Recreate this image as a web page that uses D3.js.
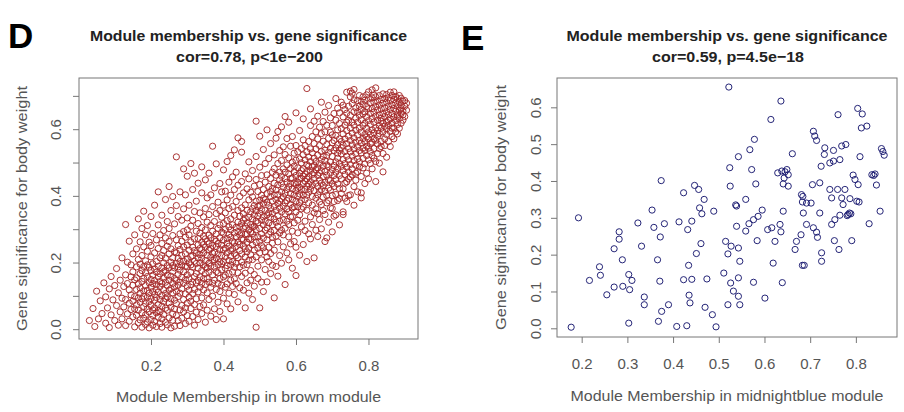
<!DOCTYPE html>
<html><head><meta charset="utf-8">
<script src="https://cdn.jsdelivr.net/npm/d3@7"></script>
<style>
html,body{margin:0;padding:0;background:#fff;}
svg{display:block;font-family:"Liberation Sans",Arial,Helvetica,sans-serif;}
</style>
</head><body>
<script>
// ---------- data ----------
const panelLetters = ["D", "E"];
const titleLines = [
  ["Module membership vs. gene significance", "cor=0.78, p<1e\u2212200"],
  ["Module membership vs. gene significance", "cor=0.59, p=4.5e\u221218"]
];
const xTitles = ["Module Membership in brown module", "Module Membership in midnightblue module"];
const yTitles = ["Gene significance for body weight", "Gene significance for body weight"];

const brownXTicks = [0.2, 0.4, 0.6, 0.8];
const brownYTicks = [0.0, 0.1, 0.2, 0.3, 0.4, 0.5, 0.6, 0.7];
const brownYLabelled = [0.0, 0.2, 0.4, 0.6];
const blueXTicks = [0.2, 0.3, 0.4, 0.5, 0.6, 0.7, 0.8];
const blueYTicks = [0.0, 0.1, 0.2, 0.3, 0.4, 0.5, 0.6];

// brown module: [module membership, [gene significance values at that membership]]
const brownColumns = [
[0.030,[0.026]],[0.040,[0.062]],[0.045,[0.008]],[0.050,[0.114]],[0.055,[0.031]],[0.060,[0.085]],
[0.065,[0.047]],[0.070,[0.139]],[0.075,[0.018,0.097]],[0.080,[0.064]],[0.085,[0.121,0.005]],
[0.090,[0.043,0.158]],[0.095,[0.088]],[0.100,[0.026,0.131]],[0.105,[0.071,0.182]],[0.110,[0.109,0.012]],
[0.115,[0.052,0.147]],[0.120,[0.093,0.214,0.031]],[0.125,[0.128,0.067]],[0.130,[0.314,0.011,0.163,0.089]],
[0.135,[0.046,0.137,0.201]],[0.140,[0.264,0.078,0.118,0.024]],[0.145,[0.157,0.059,0.193,0.103]],
[0.150,[0.037,0.132,0.226,0.084,0.172]],[0.155,[0.007,0.098,0.148,0.061,0.283]],
[0.160,[0.119,0.042,0.187,0.073,0.241,0.154]],[0.165,[0.019,0.136,0.094,0.209,0.057,0.331]],
[0.170,[0.081,0.167,0.028,0.124,0.262,0.108,0.195]],[0.175,[0.049,0.143,0.006,0.221,0.091,0.176,0.302]],
[0.180,[0.115,0.033,0.188,0.068,0.152,0.247,0.099,0.354]],[0.185,[0.014,0.131,0.077,0.205,0.043,0.169,0.283]],
[0.190,[0.096,0.158,0.022,0.234,0.117,0.061,0.193,0.311]],[0.195,[0.139,0.052,0.186,0.004,0.108,0.261,0.083]],
[0.200,[0.071,0.149,0.029,0.217,0.126,0.176,0.092,0.338,0.251]],[0.205,[0.012,0.113,0.196,0.058,0.162,0.287,0.137,0.041]],
[0.210,[0.087,0.229,0.146,0.023,0.181,0.104,0.064,0.372]],[0.215,[0.134,0.049,0.203,0.171,0.095,0.268,0.008,0.119]],
[0.220,[0.074,0.157,0.036,0.242,0.111,0.189,0.313,0.056,0.412]],[0.225,[0.128,0.017,0.214,0.089,0.166,0.283,0.143,0.052]],
[0.230,[0.101,0.184,0.031,0.257,0.069,0.137,0.221,0.342,0.006]],[0.235,[0.153,0.083,0.199,0.044,0.118,0.296,0.172,0.236]],
[0.240,[0.021,0.107,0.176,0.063,0.274,0.141,0.213,0.389,0.092]],[0.245,[0.131,0.057,0.191,0.249,0.013,0.162,0.097,0.323]],
[0.250,[0.079,0.147,0.226,0.034,0.184,0.117,0.302,0.428,0.263]],[0.255,[0.004,0.122,0.201,0.066,0.159,0.241,0.091,0.356]],
[0.260,[0.046,0.173,0.109,0.281,0.138,0.214,0.027,0.398,0.191]],[0.265,[0.087,0.152,0.232,0.061,0.127,0.316,0.184,0.009]],
[0.270,[0.113,0.197,0.041,0.268,0.146,0.077,0.517,0.229,0.371]],[0.275,[0.164,0.026,0.213,0.098,0.251,0.132,0.338,0.187]],
[0.280,[0.058,0.141,0.286,0.011,0.177,0.108,0.239,0.412,0.203]],[0.285,[0.121,0.193,0.071,0.264,0.156,0.033,0.327,0.221]],
[0.290,[0.089,0.172,0.247,0.138,0.204,0.052,0.361,0.481,0.293]],[0.295,[0.017,0.149,0.226,0.106,0.189,0.276,0.064,0.403]],
[0.300,[0.129,0.211,0.078,0.163,0.252,0.041,0.334,0.188,0.459,0.298]],[0.305,[0.096,0.237,0.151,0.024,0.199,0.283,0.117,0.372]],
[0.310,[0.171,0.062,0.218,0.134,0.262,0.309,0.084,0.497,0.193]],[0.315,[0.142,0.246,0.038,0.186,0.107,0.327,0.221,0.419]],
[0.320,[0.012,0.119,0.204,0.271,0.158,0.074,0.353,0.236,0.468]],[0.325,[0.167,0.228,0.091,0.294,0.139,0.051,0.384,0.197]],
[0.330,[0.112,0.253,0.183,0.029,0.317,0.214,0.146,0.438,0.272]],[0.335,[0.199,0.068,0.242,0.157,0.288,0.126,0.349,0.224]],
[0.340,[0.094,0.176,0.261,0.047,0.213,0.305,0.138,0.409,0.487,0.239]],[0.345,[0.152,0.229,0.118,0.279,0.193,0.073,0.337,0.254]],
[0.350,[0.021,0.206,0.167,0.246,0.134,0.298,0.362,0.187,0.448,0.271]],[0.355,[0.109,0.184,0.263,0.222,0.057,0.321,0.152,0.394]],
[0.360,[0.141,0.237,0.198,0.282,0.089,0.344,0.171,0.468,0.256]],[0.365,[0.216,0.126,0.274,0.039,0.189,0.311,0.242,0.403]],
[0.370,[0.163,0.251,0.099,0.294,0.207,0.368,0.549,0.138,0.228]],[0.375,[0.061,0.186,0.269,0.231,0.147,0.323,0.424,0.208]],
[0.380,[0.119,0.213,0.286,0.173,0.029,0.347,0.248,0.496,0.264]],[0.385,[0.194,0.257,0.138,0.302,0.081,0.226,0.381,0.169]],
[0.390,[0.152,0.239,0.313,0.202,0.113,0.274,0.437,0.053,0.356]],[0.395,[0.221,0.178,0.291,0.132,0.252,0.336,0.196,0.412]],
[0.400,[0.093,0.267,0.203,0.317,0.157,0.031,0.372,0.238,0.478,0.288]],[0.405,[0.183,0.243,0.126,0.299,0.217,0.349,0.162,0.414]],
[0.410,[0.136,0.272,0.229,0.326,0.076,0.191,0.388,0.258,0.503]],[0.415,[0.206,0.307,0.167,0.249,0.108,0.362,0.284,0.441]],
[0.420,[0.061,0.236,0.193,0.331,0.276,0.147,0.402,0.219,0.521,0.298]],[0.425,[0.172,0.264,0.313,0.128,0.241,0.368,0.203,0.457]],
[0.430,[0.104,0.289,0.227,0.342,0.186,0.259,0.419,0.151,0.538]],[0.435,[0.248,0.198,0.306,0.137,0.277,0.383,0.221,0.471]],
[0.440,[0.082,0.214,0.321,0.262,0.169,0.356,0.293,0.574,0.432]],[0.445,[0.236,0.283,0.187,0.339,0.124,0.254,0.398,0.308]],
[0.450,[0.158,0.271,0.226,0.364,0.317,0.201,0.443,0.289,0.531,0.563]],[0.455,[0.117,0.249,0.302,0.192,0.346,0.268,0.409,0.327]],
[0.460,[0.064,0.217,0.284,0.373,0.241,0.333,0.168,0.466,0.308]],[0.465,[0.194,0.261,0.319,0.139,0.357,0.286,0.421,0.232]],
[0.470,[0.108,0.298,0.243,0.388,0.336,0.207,0.502,0.271,0.451]],[0.475,[0.176,0.314,0.269,0.352,0.223,0.411,0.292,0.147]],
[0.480,[0.089,0.253,0.331,0.287,0.397,0.209,0.362,0.476,0.306]],[0.485,[0.164,0.276,0.343,0.238,0.309,0.429,0.371,0.129]],
[0.490,[0.006,0.217,0.298,0.356,0.261,0.384,0.324,0.518,0.624,0.449]],[0.495,[0.189,0.319,0.277,0.368,0.243,0.413,0.339,0.152]],
[0.500,[0.064,0.229,0.302,0.387,0.348,0.264,0.434,0.579,0.371,0.486]],[0.505,[0.141,0.286,0.327,0.251,0.402,0.359,0.461,0.208]],
[0.510,[0.113,0.244,0.313,0.378,0.337,0.419,0.273,0.539,0.392]],[0.515,[0.179,0.297,0.356,0.232,0.441,0.324,0.389,0.497]],
[0.520,[0.142,0.268,0.343,0.407,0.381,0.304,0.463,0.598,0.217]],[0.525,[0.203,0.319,0.371,0.284,0.428,0.349,0.512,0.246]],
[0.530,[0.167,0.292,0.362,0.398,0.336,0.452,0.413,0.557,0.227]],[0.535,[0.258,0.313,0.384,0.347,0.471,0.422,0.192,0.276]],
[0.540,[0.094,0.237,0.331,0.403,0.368,0.438,0.297,0.523,0.482]],[0.545,[0.188,0.356,0.279,0.418,0.389,0.462,0.321,0.573]],
[0.550,[0.159,0.262,0.341,0.377,0.433,0.404,0.497,0.308,0.593]],[0.555,[0.221,0.384,0.324,0.448,0.363,0.471,0.289,0.536]],
[0.560,[0.198,0.297,0.352,0.412,0.391,0.459,0.506,0.607,0.437]],[0.565,[0.247,0.369,0.328,0.426,0.481,0.398,0.547,0.283]],
[0.570,[0.134,0.303,0.346,0.408,0.452,0.379,0.524,0.638,0.471]],[0.575,[0.229,0.361,0.419,0.324,0.441,0.493,0.386,0.572]],
[0.580,[0.208,0.277,0.393,0.352,0.466,0.428,0.514,0.621,0.314]],[0.585,[0.256,0.374,0.437,0.407,0.482,0.337,0.549,0.452]],
[0.590,[0.183,0.338,0.389,0.453,0.421,0.501,0.364,0.578,0.294]],[0.595,[0.263,0.403,0.367,0.472,0.439,0.528,0.319,0.489]],
[0.600,[0.161,0.246,0.352,0.416,0.384,0.461,0.507,0.649,0.551,0.434]],[0.605,[0.289,0.398,0.441,0.367,0.484,0.532,0.423,0.327]],
[0.610,[0.222,0.343,0.426,0.406,0.468,0.511,0.379,0.596,0.452]],[0.615,[0.307,0.387,0.452,0.418,0.499,0.542,0.361,0.476]],
[0.620,[0.254,0.366,0.437,0.402,0.481,0.523,0.631,0.459,0.568]],[0.625,[0.324,0.419,0.466,0.389,0.508,0.444,0.551,0.296]],
[0.630,[0.203,0.357,0.429,0.473,0.451,0.532,0.722,0.494,0.402]],[0.635,[0.286,0.411,0.458,0.379,0.517,0.489,0.563,0.436]],
[0.640,[0.271,0.337,0.443,0.476,0.421,0.541,0.503,0.611,0.661]],[0.645,[0.372,0.432,0.464,0.398,0.529,0.487,0.578,0.314]],
[0.650,[0.214,0.349,0.452,0.491,0.416,0.557,0.513,0.624,0.469]],[0.655,[0.393,0.438,0.479,0.361,0.541,0.503,0.592,0.297]],
[0.660,[0.278,0.346,0.461,0.428,0.522,0.484,0.571,0.639,0.403]],[0.665,[0.382,0.447,0.497,0.413,0.551,0.469,0.606,0.329]],
[0.670,[0.301,0.374,0.476,0.438,0.533,0.509,0.587,0.681,0.419]],[0.675,[0.396,0.458,0.518,0.356,0.489,0.564,0.431,0.623]],
[0.680,[0.263,0.344,0.473,0.441,0.537,0.506,0.592,0.651,0.414]],[0.685,[0.401,0.462,0.521,0.379,0.554,0.493,0.612,0.274]],
[0.690,[0.321,0.386,0.488,0.448,0.573,0.531,0.671,0.423]],[0.695,[0.417,0.469,0.543,0.364,0.502,0.591,0.634,0.446]],
[0.700,[0.292,0.362,0.479,0.437,0.559,0.518,0.611,0.401,0.583]],[0.705,[0.428,0.491,0.536,0.383,0.566,0.461,0.647,0.339]],
[0.710,[0.343,0.404,0.502,0.471,0.581,0.544,0.692,0.627,0.449]],[0.715,[0.436,0.513,0.554,0.386,0.598,0.482,0.663,0.528]],
[0.720,[0.313,0.392,0.497,0.461,0.571,0.536,0.617,0.422,0.649]],[0.725,[0.451,0.526,0.563,0.407,0.602,0.488,0.681,0.544]],
[0.730,[0.352,0.421,0.509,0.476,0.586,0.552,0.637,0.672,0.344]],[0.735,[0.464,0.533,0.571,0.438,0.612,0.497,0.659,0.393]],
[0.740,[0.383,0.442,0.519,0.486,0.596,0.557,0.648,0.711,0.621]],[0.745,[0.472,0.542,0.579,0.451,0.627,0.508,0.669,0.401]],
[0.750,[0.403,0.457,0.532,0.494,0.603,0.566,0.641,0.697,0.714]],[0.755,[0.481,0.553,0.588,0.463,0.621,0.519,0.677,0.708]],
[0.760,[0.372,0.428,0.541,0.506,0.612,0.574,0.652,0.688,0.719]],[0.765,[0.492,0.561,0.597,0.468,0.633,0.527,0.664,0.447]],
[0.770,[0.412,0.511,0.548,0.583,0.621,0.652,0.686,0.473]],[0.775,[0.502,0.566,0.603,0.536,0.641,0.487,0.669,0.701]],
[0.780,[0.394,0.458,0.529,0.591,0.558,0.628,0.659,0.409,0.683]],[0.785,[0.512,0.572,0.611,0.543,0.646,0.484,0.674,0.697]],
[0.790,[0.437,0.496,0.536,0.584,0.618,0.563,0.652,0.687]],[0.795,[0.521,0.577,0.603,0.549,0.638,0.468,0.668,0.703]],
[0.800,[0.451,0.508,0.543,0.592,0.626,0.571,0.661,0.691,0.712]],[0.805,[0.533,0.584,0.614,0.556,0.647,0.497,0.679]],
[0.810,[0.481,0.521,0.561,0.598,0.632,0.662,0.694,0.718]],[0.815,[0.542,0.589,0.621,0.571,0.651,0.513,0.681,0.703]],
[0.820,[0.443,0.503,0.604,0.567,0.639,0.668,0.697,0.724]],[0.825,[0.556,0.596,0.627,0.579,0.658,0.527,0.684]],
[0.830,[0.498,0.542,0.611,0.643,0.587,0.672,0.701]],[0.835,[0.563,0.603,0.633,0.661,0.548,0.689,0.624]],
[0.840,[0.472,0.527,0.592,0.647,0.618,0.678,0.706]],[0.845,[0.571,0.609,0.638,0.664,0.551,0.692]],
[0.850,[0.516,0.584,0.622,0.652,0.681,0.704,0.601]],[0.855,[0.563,0.611,0.643,0.669,0.694,0.627]],
[0.860,[0.548,0.593,0.631,0.659,0.686,0.711]],[0.865,[0.578,0.618,0.647,0.673,0.701,0.603]],
[0.870,[0.571,0.604,0.637,0.662,0.689,0.712]],[0.875,[0.592,0.626,0.654,0.678,0.698]],
[0.880,[0.586,0.614,0.643,0.668,0.691,0.637]],[0.885,[0.603,0.632,0.657,0.681,0.701]],
[0.890,[0.618,0.647,0.672,0.693,0.662]],[0.895,[0.627,0.654,0.684,0.643]],
[0.900,[0.638,0.669,0.686]],[0.905,[0.657,0.678]]
];

// midnightblue module: [module membership, gene significance]
const bluePoints = [
[0.177,0.003],[0.193,0.300],[0.217,0.130],[0.239,0.167],[0.241,0.144],[0.255,0.091],[0.271,0.216],[0.271,0.112],
[0.282,0.262],[0.282,0.242],[0.289,0.186],[0.290,0.114],[0.303,0.146],[0.303,0.014],[0.305,0.105],[0.310,0.130],
[0.323,0.286],[0.331,0.223],[0.337,0.085],[0.337,0.064],[0.354,0.321],[0.358,0.274],[0.366,0.186],[0.368,0.019],
[0.371,0.128],[0.372,0.248],[0.374,0.401],[0.375,0.046],[0.381,0.284],[0.390,0.064],[0.408,0.005],[0.413,0.289],
[0.423,0.368],[0.423,0.132],[0.430,0.007],[0.432,0.268],[0.434,0.171],[0.435,0.090],[0.437,0.069],[0.441,0.133],
[0.441,0.291],[0.447,0.388],[0.451,0.203],[0.456,0.377],[0.458,0.327],[0.461,0.230],[0.463,0.311],[0.468,0.350],
[0.470,0.057],[0.474,0.134],[0.486,0.037],[0.489,0.318],[0.494,0.004],[0.511,0.150],[0.515,0.236],[0.520,0.202],
[0.520,0.064],[0.522,0.655],[0.524,0.436],[0.525,0.386],[0.526,0.123],[0.537,0.335],
[0.636,0.617],[0.614,0.567],[0.761,0.580],[0.804,0.597],[0.814,0.582],[0.812,0.544],[0.824,0.549],[0.707,0.535],
[0.710,0.522],[0.714,0.510],[0.578,0.513],[0.568,0.485],[0.543,0.466],[0.572,0.431],[0.661,0.474],[0.732,0.490],
[0.751,0.483],[0.731,0.472],[0.769,0.495],[0.778,0.499],[0.743,0.449],[0.724,0.440],[0.751,0.454],[0.765,0.458],
[0.809,0.466],[0.856,0.488],[0.862,0.470],[0.629,0.422],[0.638,0.427],[0.649,0.431],[0.652,0.417],[0.643,0.408],
[0.581,0.392],[0.641,0.392],[0.652,0.386],[0.705,0.390],[0.721,0.395],[0.794,0.416],[0.798,0.404],[0.805,0.390],
[0.835,0.417],[0.842,0.419],[0.845,0.389],[0.743,0.377],[0.760,0.377],[0.776,0.377],[0.747,0.354],[0.769,0.354],
[0.787,0.352],[0.802,0.345],[0.807,0.343],[0.539,0.332],[0.559,0.350],[0.681,0.363],[0.683,0.343],[0.692,0.340],
[0.702,0.340],[0.772,0.336],[0.595,0.321],[0.586,0.304],[0.576,0.295],[0.566,0.284],[0.559,0.264],[0.539,0.277],
[0.641,0.318],[0.685,0.313],[0.721,0.313],[0.783,0.309],[0.789,0.311],[0.765,0.307],[0.754,0.295],[0.747,0.282],
[0.853,0.318],[0.829,0.284],[0.607,0.268],[0.616,0.273],[0.634,0.282],[0.636,0.262],[0.692,0.282],[0.707,0.273],
[0.714,0.261],[0.716,0.247],[0.623,0.236],[0.584,0.238],[0.680,0.254],[0.670,0.236],[0.667,0.214],[0.753,0.238],
[0.763,0.214],[0.791,0.238],[0.725,0.205],[0.725,0.182],[0.683,0.171],[0.687,0.171],[0.619,0.177],[0.543,0.218],
[0.527,0.223],[0.546,0.182],[0.576,0.125],[0.543,0.137],[0.532,0.101],[0.543,0.087],[0.546,0.064],[0.639,0.124],
[0.601,0.082],[0.786,0.313],[0.781,0.306],[0.645,0.425],[0.684,0.358],[0.859,0.480],[0.839,0.415]
];

// ---------- drawing ----------
const W = 904, H = 412;
const svg = d3.select("body").append("svg").attr("width", W).attr("height", H);

const brownPoints = brownColumns.flatMap(([mm, gsList]) => gsList.map(gs => [mm, gs]));

const panels = [
  {
    box: {l: 79, r: 418, t: 78, b: 339},
    xDom: [0.0014, 0.9366], yDom: [-0.0294, 0.7536],
    xTicks: brownXTicks, yTicks: brownYTicks,
    yLab: d => brownYLabelled.some(v => Math.abs(v - d) < 1e-9) ? d3.format(".1f")(d) : "",
    pts: brownPoints, color: "#a52a2a",
    letterX: 8, letterY: 48,
    t1W: 317, t2W: 147, xtW: 265, ytW: 245,
    xLabBase: 370.5, yLabBase: 60.5, xTitleBase: 401.5, yTitleBase: 26.5
  },
  {
    box: {l: 557, r: 897, t: 78, b: 337},
    xDom: [0.146, 0.890], yDom: [-0.0236, 0.6796],
    xTicks: blueXTicks, yTicks: blueYTicks,
    yLab: d => d3.format(".1f")(d),
    pts: bluePoints, color: "#191970",
    letterX: 461, letterY: 50,
    t1W: 321, t2W: 152, xtW: 313, ytW: 245,
    xLabBase: 368.5, yLabBase: 540.7, xTitleBase: 400.5, yTitleBase: 506
  }
];

panels.forEach((p, i) => {
  const b = p.box;
  const x = d3.scaleLinear().domain(p.xDom).range([b.l, b.r]);
  const y = d3.scaleLinear().domain(p.yDom).range([b.b, b.t]);
  const cx = (b.l + b.r) / 2, cy = (b.t + b.b) / 2;
  const g = svg.append("g");

  // points
  g.append("g").selectAll("circle").data(p.pts).join("circle")
    .attr("cx", d => x(d[0])).attr("cy", d => y(d[1])).attr("r", 3.1)
    .attr("fill", "none").attr("stroke", p.color).attr("stroke-width", 0.95);

  // box
  g.append("rect").attr("x", b.l).attr("y", b.t).attr("width", b.r - b.l).attr("height", b.b - b.t)
    .attr("fill", "none").attr("stroke", "#777").attr("stroke-width", 1);

  // x axis
  const xa = g.append("g").attr("transform", `translate(0,${b.b})`)
    .call(d3.axisBottom(x).tickValues(p.xTicks).tickSize(6).tickSizeOuter(0).tickFormat(d3.format(".1f")));
  xa.select(".domain").remove();
  xa.selectAll(".tick line").attr("stroke", "#777");
  xa.selectAll(".tick text").attr("y", p.xLabBase - b.b).attr("dy", 0)
    .attr("font-size", 15).attr("fill", "#555");

  // y axis
  const ya = g.append("g").attr("transform", `translate(${b.l},0)`)
    .call(d3.axisLeft(y).tickValues(p.yTicks).tickSize(6).tickSizeOuter(0).tickFormat(p.yLab));
  ya.select(".domain").remove();
  ya.selectAll(".tick line").attr("stroke", "#777");
  ya.selectAll(".tick text").attr("x", 0).attr("dy", 0).attr("text-anchor", "middle")
    .attr("transform", `translate(${p.yLabBase - b.l},0) rotate(-90)`)
    .attr("font-size", 15).attr("fill", "#555");
  xa.attr("font-family", null); ya.attr("font-family", null);

  // titles
  g.append("text").attr("x", cx).attr("y", 41).attr("text-anchor", "middle")
    .attr("font-size", 15.5).attr("font-weight", "bold").attr("fill", "#222")
    .attr("textLength", p.t1W).attr("lengthAdjust", "spacingAndGlyphs").text(titleLines[i][0]);
  g.append("text").attr("x", cx + 1).attr("y", 62).attr("text-anchor", "middle")
    .attr("font-size", 15.5).attr("font-weight", "bold").attr("fill", "#222")
    .attr("textLength", p.t2W).attr("lengthAdjust", "spacingAndGlyphs").text(titleLines[i][1]);

  // axis titles
  g.append("text").attr("x", cx).attr("y", p.xTitleBase).attr("text-anchor", "middle")
    .attr("font-size", 15.5).attr("fill", "#555")
    .attr("textLength", p.xtW).attr("lengthAdjust", "spacingAndGlyphs").text(xTitles[i]);
  g.append("text").attr("transform", `translate(${p.yTitleBase},${cy}) rotate(-90)`)
    .attr("text-anchor", "middle").attr("font-size", 15.5).attr("fill", "#555")
    .attr("textLength", p.ytW).attr("lengthAdjust", "spacingAndGlyphs").text(yTitles[i]);

  // panel letter
  g.append("text").attr("x", p.letterX).attr("y", p.letterY)
    .attr("font-size", 35).attr("font-weight", "bold").attr("fill", "#000").text(panelLetters[i]);
});
</script>
</body></html>
